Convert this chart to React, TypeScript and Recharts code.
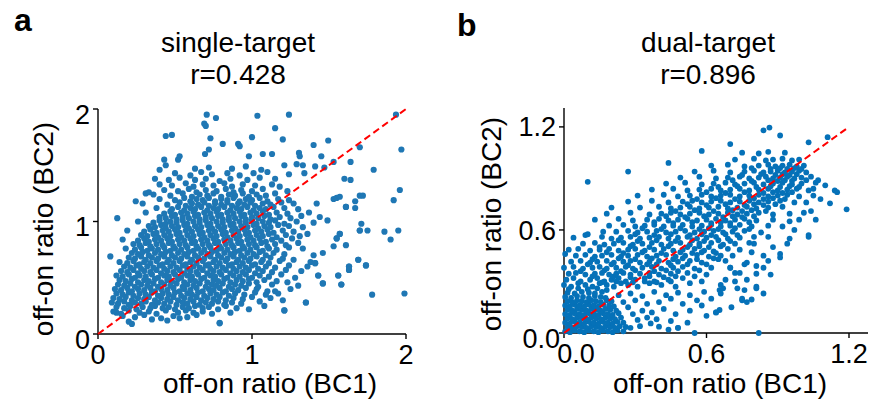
import React from 'react';
import { ScatterChart, Scatter, XAxis, YAxis } from 'recharts';

// ---------- data ----------
const singleTicks = [0, 1, 2];
const dualTicks = [0, 0.6, 1.2];
const singleDomain = [0, 2];
const dualXDomain = [0, 1.28];
const dualYDomain = [0, 1.31];
const singleDiagonal = [0, 2];
const dualDiagonal = [0, 1.2];
const singleTitle = ['single-target', 'r=0.428'];
const dualTitle = ['dual-target', 'r=0.896'];
const xTitle = 'off-on ratio (BC1)';
const yTitle = 'off-on ratio (BC2)';

// single-target: [BC1 off-on ratio, BC2 off-on ratio]
const singleTarget: [number, number][] = [
[.20,.11],[.22,.09],[.45,.12],[.79,.10],[.35,.13],[.53,.14],
[.16,.16],[.24,.15],[.30,.17],[.41,.14],[.49,.16],[.58,.15],[.64,.17],[.12,.19],
[.10,.20],[.15,.18],[.20,.21],[.27,.19],[.33,.20],[.38,.18],[.44,.21],[.52,.19],[.57,.21],[.62,.19],[.68,.20],[.74,.18],[.86,.19],[1.21,.21],[.98,.22],
[.12,.24],[.17,.23],[.21,.25],[.25,.22],[.29,.24],[.34,.23],[.37,.25],[.42,.23],[.46,.24],[.50,.22],[.55,.24],[.59,.23],[.63,.25],[.68,.23],[.72,.24],[.78,.22],[.83,.25],[.90,.23],
[.09,.28],[.13,.27],[.17,.29],[.20,.26],[.24,.28],[.28,.27],[.31,.29],[.35,.26],[.39,.28],[.43,.27],[.47,.29],[.51,.26],[.55,.28],[.58,.27],[.62,.29],[.66,.26],[.70,.28],[.74,.27],[.78,.29],[.82,.26],[.87,.28],[.93,.27],[1.35,.28],[1.05,.29],
[.10,.32],[.14,.31],[.18,.33],[.22,.30],[.26,.32],[.30,.31],[.33,.33],[.37,.30],[.41,.32],[.45,.31],[.49,.33],[.52,.30],[.56,.32],[.60,.31],[.64,.33],[.67,.30],[.71,.32],[.75,.31],[.79,.33],[.83,.30],[.88,.32],[.94,.31],[1.00,.33],[1.12,.32],[1.20,.30],
[.12,.36],[.16,.35],[.20,.37],[.23,.34],[.27,.36],[.31,.35],[.35,.37],[.39,.34],[.42,.36],[.46,.35],[.50,.37],[.54,.34],[.58,.36],[.61,.35],[.65,.37],[.69,.34],[.73,.36],[.77,.35],[.81,.37],[.85,.34],[.89,.36],[.95,.35],[1.02,.37],[1.09,.35],[1.17,.36],[1.99,.36],[1.78,.35],
[.11,.40],[.15,.39],[.19,.41],[.22,.38],[.26,.40],[.30,.39],[.34,.41],[.37,.38],[.41,.40],[.45,.39],[.49,.41],[.53,.38],[.56,.40],[.60,.39],[.64,.41],[.68,.38],[.72,.40],[.75,.39],[.79,.41],[.83,.38],[.87,.40],[.91,.39],[.96,.41],[1.03,.40],[1.10,.38],[1.25,.40],
[.13,.44],[.17,.43],[.21,.45],[.24,.42],[.28,.44],[.32,.43],[.36,.45],[.39,.42],[.43,.44],[.47,.43],[.51,.45],[.55,.42],[.58,.44],[.62,.43],[.66,.45],[.70,.42],[.74,.44],[.77,.43],[.81,.45],[.85,.42],[.89,.44],[.93,.43],[.98,.45],[1.04,.42],[1.13,.44],[1.30,.43],[1.46,.45],[1.58,.44],
[.14,.48],[.18,.47],[.22,.49],[.26,.46],[.30,.48],[.33,.47],[.37,.49],[.41,.46],[.45,.48],[.48,.47],[.52,.49],[.56,.46],[.60,.48],[.63,.47],[.67,.49],[.71,.46],[.75,.48],[.78,.47],[.82,.49],[.86,.46],[.90,.48],[.94,.47],[.98,.49],[1.03,.46],[1.08,.48],[1.16,.47],[1.23,.46],
[.12,.52],[.16,.51],[.20,.53],[.24,.50],[.27,.52],[.31,.51],[.35,.53],[.39,.50],[.43,.52],[.46,.51],[.50,.53],[.54,.50],[.58,.52],[.61,.51],[.65,.53],[.69,.50],[.73,.52],[.76,.51],[.80,.53],[.84,.50],[.88,.52],[.92,.51],[.96,.53],[1.00,.50],[1.05,.52],[1.11,.51],[1.19,.53],[1.43,.52],[1.56,.52],
[.15,.56],[.19,.55],[.23,.57],[.26,.54],[.30,.56],[.34,.55],[.38,.57],[.41,.54],[.45,.56],[.49,.55],[.53,.57],[.56,.54],[.60,.56],[.64,.55],[.68,.57],[.71,.54],[.75,.56],[.79,.55],[.83,.57],[.86,.54],[.90,.56],[.94,.55],[.98,.57],[1.02,.54],[1.07,.56],[1.13,.55],[1.22,.57],[1.32,.56],[1.63,.57],
[.17,.60],[.21,.59],[.25,.61],[.28,.58],[.32,.60],[.36,.59],[.40,.61],[.43,.58],[.47,.60],[.51,.59],[.55,.61],[.58,.58],[.62,.60],[.66,.59],[.70,.61],[.73,.58],[.77,.60],[.81,.59],[.85,.61],[.88,.58],[.92,.60],[.96,.59],[1.00,.61],[1.04,.58],[1.09,.60],[1.15,.59],[1.24,.61],[1.63,.60],[1.74,.61],
[.14,.64],[.19,.63],[.23,.65],[.27,.62],[.30,.64],[.34,.63],[.38,.65],[.42,.62],[.45,.64],[.49,.63],[.53,.65],[.57,.62],[.60,.64],[.64,.63],[.68,.65],[.72,.62],[.75,.64],[.79,.63],[.83,.65],[.87,.62],[.90,.64],[.94,.63],[.98,.65],[1.02,.62],[1.06,.64],[1.11,.63],[1.18,.65],[1.38,.64],[1.41,.63],
[.20,.68],[.24,.67],[.28,.69],[.31,.66],[.35,.68],[.39,.67],[.43,.69],[.46,.66],[.50,.68],[.54,.67],[.58,.69],[.61,.66],[.65,.68],[.69,.67],[.73,.69],[.76,.66],[.80,.68],[.84,.67],[.88,.69],[.91,.66],[.95,.68],[.99,.67],[1.03,.69],[1.07,.66],[1.12,.68],[1.20,.67],[1.27,.66],[1.69,.66],
[.08,.69],[.22,.72],[.26,.71],[.29,.73],[.33,.70],[.37,.72],[.41,.71],[.44,.73],[.48,.70],[.52,.72],[.56,.71],[.59,.73],[.63,.70],[.67,.72],[.71,.71],[.74,.73],[.78,.70],[.82,.72],[.86,.71],[.89,.73],[.93,.70],[.97,.72],[1.01,.71],[1.05,.73],[1.09,.70],[1.14,.72],[1.21,.71],[1.40,.70],[1.46,.72],
[.18,.76],[.24,.75],[.28,.77],[.32,.74],[.35,.76],[.39,.75],[.43,.77],[.47,.74],[.50,.76],[.54,.75],[.58,.77],[.62,.74],[.65,.76],[.69,.75],[.73,.77],[.77,.74],[.80,.76],[.84,.75],[.88,.77],[.92,.74],[.95,.76],[.99,.75],[1.03,.77],[1.07,.74],[1.11,.76],[1.16,.75],[1.24,.77],[1.53,.78],[1.61,.79],[1.33,.76],
[.23,.80],[.27,.79],[.31,.81],[.34,.78],[.38,.80],[.42,.79],[.46,.81],[.49,.78],[.53,.80],[.57,.79],[.61,.81],[.64,.78],[.68,.80],[.72,.79],[.76,.81],[.79,.78],[.83,.80],[.87,.79],[.91,.81],[.94,.78],[.98,.80],[1.02,.79],[1.06,.81],[1.10,.78],[1.15,.80],[1.22,.79],[1.30,.81],
[.16,.84],[.26,.83],[.30,.85],[.33,.82],[.37,.84],[.41,.83],[.45,.85],[.48,.82],[.52,.84],[.56,.83],[.60,.85],[.63,.82],[.67,.84],[.71,.83],[.75,.85],[.78,.82],[.82,.84],[.86,.83],[.90,.85],[.93,.82],[.97,.84],[1.01,.83],[1.05,.85],[1.09,.82],[1.13,.84],[1.19,.83],[1.26,.85],[1.55,.85],[1.90,.84],[1.57,.89],
[.28,.88],[.32,.87],[.36,.89],[.39,.86],[.43,.88],[.47,.87],[.51,.89],[.54,.86],[.58,.88],[.62,.87],[.66,.89],[.69,.86],[.73,.88],[.77,.87],[.81,.89],[.84,.86],[.88,.88],[.92,.87],[.96,.89],[.99,.86],[1.03,.88],[1.07,.87],[1.11,.89],[1.16,.86],[1.22,.88],[1.31,.87],[1.36,.89],
[.19,.92],[.30,.91],[.34,.93],[.38,.90],[.42,.92],[.46,.91],[.50,.93],[.53,.90],[.57,.92],[.61,.91],[.65,.93],[.68,.90],[.72,.92],[.76,.91],[.80,.93],[.83,.90],[.87,.92],[.91,.91],[.95,.93],[.98,.90],[1.02,.92],[1.06,.91],[1.10,.93],[1.14,.90],[1.20,.92],[1.27,.91],[1.70,.92],[1.75,.92],[1.86,.91],[1.95,.92],
[.33,.96],[.37,.95],[.41,.97],[.44,.94],[.48,.96],[.52,.95],[.56,.97],[.59,.94],[.63,.96],[.67,.95],[.71,.97],[.74,.94],[.78,.96],[.82,.95],[.86,.97],[.89,.94],[.93,.96],[.97,.95],[1.01,.97],[1.04,.94],[1.08,.96],[1.12,.95],[1.17,.97],[1.24,.96],[1.33,.95],[1.71,.98],
[.26,1.00],[.36,.99],[.40,1.01],[.44,.98],[.47,1.00],[.51,.99],[.55,1.01],[.58,.98],[.62,1.00],[.66,.99],[.70,1.01],[.73,.98],[.77,1.00],[.81,.99],[.85,1.01],[.88,.98],[.92,1.00],[.96,.99],[1.00,1.01],[1.03,.98],[1.07,1.00],[1.11,.99],[1.15,1.01],[1.21,.98],[1.29,1.00],[1.40,.99],[1.49,1.01],
[.125,1.03],[.40,1.04],[.44,1.03],[.48,1.05],[.51,1.02],[.55,1.04],[.59,1.03],[.63,1.05],[.66,1.02],[.70,1.04],[.74,1.03],[.78,1.05],[.81,1.02],[.85,1.04],[.89,1.03],[.93,1.05],[.96,1.02],[1.00,1.04],[1.04,1.03],[1.08,1.05],[1.12,1.02],[1.18,1.04],[1.25,1.03],[1.32,1.05],[1.44,1.04],
[.31,1.08],[.43,1.07],[.47,1.09],[.50,1.06],[.54,1.08],[.58,1.07],[.62,1.09],[.65,1.06],[.69,1.08],[.73,1.07],[.77,1.09],[.80,1.06],[.84,1.08],[.88,1.07],[.92,1.09],[.95,1.06],[.99,1.08],[1.03,1.07],[1.07,1.09],[1.11,1.06],[1.16,1.08],[1.23,1.07],[1.37,1.08],
[.38,1.12],[.48,1.11],[.52,1.13],[.56,1.10],[.60,1.12],[.63,1.11],[.67,1.13],[.71,1.10],[.75,1.12],[.78,1.11],[.82,1.13],[.86,1.10],[.90,1.12],[.93,1.11],[.97,1.13],[1.01,1.10],[1.05,1.12],[1.09,1.11],[1.14,1.13],[1.21,1.12],[1.30,1.11],[1.61,1.13],[1.67,1.12],
[.29,1.16],[.45,1.15],[.53,1.17],[.57,1.14],[.61,1.16],[.65,1.15],[.69,1.17],[.72,1.14],[.76,1.16],[.80,1.15],[.84,1.17],[.87,1.14],[.91,1.16],[.95,1.15],[.99,1.17],[1.02,1.14],[1.07,1.16],[1.12,1.15],[1.19,1.17],[1.27,1.16],[1.42,1.16],[1.67,1.18],
[.245,1.18],[.40,1.20],[.50,1.19],[.56,1.21],[.60,1.18],[.64,1.20],[.68,1.19],[.72,1.21],[.76,1.18],[.80,1.20],[.84,1.19],[.88,1.21],[.92,1.18],[.96,1.20],[1.00,1.19],[1.05,1.21],[1.10,1.18],[1.17,1.20],[1.24,1.19],[1.53,1.20],[1.55,1.21],[1.57,1.22],[1.92,1.19],
[.36,1.24],[.47,1.23],[.55,1.25],[.61,1.22],[.66,1.24],[.71,1.23],[.75,1.25],[.80,1.22],[.85,1.24],[.89,1.23],[.94,1.25],[.98,1.22],[1.03,1.24],[1.09,1.23],[1.15,1.25],[1.70,1.23],[1.72,1.23],
[.31,1.25],[.33,1.26],[.43,1.28],[.52,1.27],[.59,1.29],[.64,1.26],[.70,1.28],[.77,1.27],[.83,1.29],[.88,1.26],[.93,1.28],[1.00,1.27],[1.07,1.29],[1.23,1.27],[1.96,1.28],
[.40,1.33],[.48,1.32],[.57,1.34],[.62,1.31],[.68,1.33],[.75,1.32],[.82,1.34],[.87,1.31],[.94,1.33],[1.02,1.32],[1.13,1.33],[1.18,1.31],
[.37,1.38],[.46,1.37],[.53,1.39],[.63,1.37],[.70,1.38],[.79,1.36],[.86,1.38],[.97,1.37],[1.05,1.39],[1.15,1.38],[1.64,1.37],[1.60,1.38],
[.50,1.43],[.60,1.41],[.67,1.44],[.74,1.42],[.84,1.43],[.92,1.41],[1.01,1.43],[1.10,1.44],[1.24,1.42],[1.34,1.43],
[.44,1.50],[.40,1.46],[.63,1.47],[.72,1.48],[.87,1.47],[.96,1.49],[1.06,1.46],[1.21,1.50],[1.29,1.51],[1.33,1.50],[1.41,1.49],[1.47,1.48],[1.79,1.46],
[.43,1.55],[.52,1.55],[.53,1.58],[.695,1.60],[.72,1.64],[.98,1.58],[1.07,1.60],[1.13,1.60],[1.305,1.61],[1.31,1.58],[1.45,1.58],[1.53,1.53],[1.64,1.53],[1.70,1.66],[1.97,1.64],
[.81,1.69],[.91,1.69],[.92,1.67],[1.40,1.68],[1.495,1.72],[.73,1.74],[1.00,1.75],[1.20,1.73],[.44,1.76],[.48,1.77],[1.15,1.83],[.69,1.87],[.70,1.85],[.766,1.92],[.706,1.95],[1.035,1.94],[1.24,1.95],[1.935,1.95],
[1.61,1.13],[1.70,.92],[1.74,.61],[1.69,.66],[1.63,.60],[1.63,.57],[1.56,.52],[1.58,.44],[1.46,.45],[1.35,.28],[1.43,.52],[1.41,.63],[1.55,.85],[1.57,.89],[1.21,.21],[.79,.095],[1.08,.25],[1.15,.38],[1.28,.50],[1.36,.60]
];

// dual-target: [BC1 off-on ratio, BC2 off-on ratio]
const dualTarget: [number, number][] = [
[.005,.01],[.025,.005],[.045,.015],[.065,.01],[.085,.005],[.105,.015],[.125,.01],[.145,.005],[.165,.015],[.185,.01],[.205,.005],[.225,.015],[.25,.01],
[.015,.035],[.035,.03],[.055,.04],[.075,.035],[.095,.03],[.115,.04],[.135,.035],[.155,.03],[.175,.04],[.195,.035],[.215,.03],[.235,.04],[.26,.035],
[.005,.06],[.025,.055],[.045,.065],[.065,.06],[.085,.055],[.105,.065],[.125,.06],[.145,.055],[.165,.065],[.185,.06],[.205,.055],[.225,.065],[.25,.06],
[.015,.085],[.035,.08],[.055,.09],[.075,.085],[.095,.08],[.115,.09],[.135,.085],[.155,.08],[.175,.09],[.195,.085],[.215,.08],[.24,.09],
[.005,.11],[.025,.105],[.045,.115],[.065,.11],[.085,.105],[.105,.115],[.125,.11],[.145,.105],[.165,.115],[.185,.11],[.205,.105],[.23,.115],
[.015,.135],[.035,.13],[.055,.14],[.075,.135],[.095,.13],[.115,.14],[.135,.135],[.155,.13],[.175,.14],[.195,.135],[.22,.13],
[.005,.16],[.025,.155],[.045,.165],[.065,.16],[.085,.155],[.105,.165],[.125,.16],[.145,.155],[.165,.165],[.19,.16],[.21,.155],
[.015,.185],[.035,.18],[.055,.19],[.075,.185],[.095,.18],[.115,.19],[.135,.185],[.155,.18],[.18,.19],[.20,.185],
[.005,.21],[.03,.205],[.055,.215],[.08,.21],[.105,.205],[.13,.215],[.155,.21],[.175,.205],
[.015,.235],[.045,.23],[.075,.24],[.105,.235],[.13,.23],[.16,.24],
[.02,.255],[.06,.26],[.10,.255],[.14,.26],[.18,.25],
[.28,.03],[.32,.04],[.365,.056],[.40,.037],[.44,.02],[.48,.03],[.55,0],[.82,0],[.31,.076],[.35,.09],[.29,.11],[.39,.08],[.45,.07],[.52,.06],
[.27,.15],[.33,.13],[.37,.12],[.42,.14],[.47,.11],[.53,.13],[.60,.10],[.64,.12],[.655,.134],[.705,.15],[.58,.16],
[.25,.18],[.30,.19],[.35,.17],[.40,.18],[.45,.20],[.50,.17],[.56,.19],[.62,.20],[.77,.18],[.79,.195],[.75,.19],
[.23,.22],[.28,.23],[.33,.215],[.38,.24],[.43,.22],[.48,.235],[.53,.22],[.59,.24],[.66,.23],[.73,.26],[.76,.25],[.81,.27],[.84,.23],[.655,.25],[.67,.26],
[0,.28],[.03,.27],[.06,.29],[.09,.28],[.12,.27],[.15,.29],[.18,.28],[.21,.27],[.24,.29],[.27,.28],[.31,.27],[.36,.29],[.41,.28],[.47,.27],[.53,.29],[.66,.28],[.72,.30],
[.16,.295],[.22,.30],[.29,.295],[.34,.30],[.39,.295],[.45,.30],
[.01,.31],[.04,.32],[.07,.30],[.11,.31],[.14,.32],[.17,.30],[.20,.31],[.23,.32],[.26,.30],[.30,.31],[.34,.32],[.38,.30],[.44,.31],[.50,.32],[.58,.30],[.68,.31],[.77,.31],
[.12,.33],[.21,.33],[.28,.325],[.36,.33],[.42,.325],[.47,.33],[.55,.33],
[.02,.345],[.05,.35],[.09,.34],[.13,.345],[.16,.35],[.19,.34],[.22,.345],[.25,.35],[.28,.34],[.32,.345],[.36,.35],[.40,.34],[.45,.345],[.52,.35],[.60,.34],[.74,.35],[.81,.345],
[.07,.36],[.17,.365],[.24,.36],[.30,.365],[.38,.36],[.43,.365],[.48,.36],[.57,.365],
[0,.38],[.04,.385],[.08,.375],[.12,.38],[.15,.385],[.18,.375],[.22,.38],[.26,.385],[.29,.375],[.33,.38],[.37,.385],[.41,.375],[.46,.38],[.50,.385],[.55,.375],[.62,.38],[.70,.38],[.81,.39],[.84,.38],
[.10,.40],[.20,.40],[.27,.395],[.35,.40],[.39,.40],[.45,.395],[.52,.40],[.60,.40],
[.03,.415],[.07,.42],[.11,.41],[.14,.415],[.18,.42],[.21,.41],[.25,.415],[.28,.42],[.32,.41],[.36,.415],[.40,.42],[.44,.41],[.48,.415],[.53,.42],[.58,.41],[.65,.43],[.68,.42],[.77,.41],
[.12,.43],[.23,.435],[.30,.43],[.37,.435],[.46,.43],[.50,.435],[.56,.43],[.63,.435],
[.05,.45],[.09,.455],[.13,.445],[.16,.45],[.20,.455],[.24,.445],[.27,.45],[.31,.455],[.35,.445],[.39,.45],[.43,.455],[.47,.445],[.51,.45],[.56,.455],[.61,.445],[.66,.45],[.71,.45],
[.18,.47],[.25,.465],[.33,.47],[.41,.465],[.49,.47],[.54,.465],[.58,.47],[.64,.465],
[.02,.485],[.06,.49],[.11,.48],[.15,.485],[.19,.49],[.23,.48],[.27,.485],[.30,.49],[.34,.48],[.38,.485],[.42,.49],[.46,.48],[.50,.485],[.55,.49],[.59,.48],[.63,.475],[.69,.49],[.74,.485],
[.15,.50],[.28,.505],[.36,.50],[.44,.505],[.52,.50],[.57,.505],[.61,.50],[.66,.505],
[.08,.52],[.13,.525],[.17,.515],[.21,.52],[.25,.525],[.29,.515],[.33,.52],[.37,.525],[.41,.515],[.45,.52],[.49,.525],[.53,.515],[.57,.52],[.62,.525],[.67,.515],[.72,.52],[.78,.525],[.94,.52],
[.23,.54],[.31,.535],[.39,.54],[.47,.535],[.54,.54],[.59,.535],[.65,.54],[.70,.535],
[.04,.555],[.16,.56],[.20,.55],[.24,.555],[.28,.56],[.32,.55],[.36,.555],[.40,.56],[.44,.55],[.48,.555],[.52,.56],[.56,.55],[.60,.555],[.64,.56],[.69,.55],[.74,.555],[.80,.56],
[.30,.575],[.38,.57],[.45,.575],[.53,.57],[.58,.575],[.62,.57],[.68,.575],[.73,.57],
[.22,.59],[.27,.595],[.31,.585],[.35,.59],[.39,.595],[.43,.585],[.47,.59],[.51,.595],[.55,.585],[.59,.59],[.63,.595],[.67,.585],[.71,.59],[.76,.595],[.83,.585],
[.33,.61],[.41,.605],[.49,.61],[.57,.605],[.61,.61],[.65,.605],[.72,.61],[.78,.605],
[.19,.625],[.25,.63],[.30,.62],[.34,.625],[.38,.63],[.42,.62],[.46,.625],[.50,.63],[.54,.62],[.58,.625],[.62,.63],[.66,.62],[.70,.625],[.74,.63],[.79,.62],[.86,.625],
[.38,.645],[.46,.64],[.54,.645],[.62,.64],[.66,.645],[.70,.64],[.78,.645],
[.13,.66],[.23,.665],[.29,.655],[.35,.66],[.40,.665],[.44,.655],[.48,.66],[.52,.665],[.56,.655],[.60,.66],[.64,.665],[.68,.655],[.72,.66],[.76,.665],[.81,.655],[.88,.66],
[.43,.68],[.51,.675],[.59,.68],[.67,.675],[.71,.68],[.75,.675],[.80,.68],
[.18,.695],[.28,.70],[.36,.69],[.41,.695],[.45,.70],[.49,.69],[.53,.695],[.57,.70],[.61,.69],[.65,.695],[.69,.70],[.73,.69],[.77,.695],[.82,.70],[.88,.69],[.95,.695],
[.47,.71],[.55,.715],[.63,.71],[.71,.715],[.75,.71],[.79,.715],[.85,.71],
[.32,.73],[.40,.735],[.45,.725],[.49,.73],[.53,.735],[.57,.725],[.61,.73],[.65,.735],[.69,.725],[.73,.73],[.77,.735],[.81,.725],[.86,.73],[.92,.735],
[.52,.75],[.60,.745],[.68,.75],[.76,.745],[.80,.75],[.84,.745],[.89,.75],
[.27,.765],[.37,.77],[.44,.76],[.50,.765],[.54,.77],[.58,.76],[.62,.765],[.66,.77],[.70,.76],[.74,.765],[.78,.77],[.82,.76],[.86,.765],[.91,.77],[.97,.76],
[.56,.78],[.64,.785],[.72,.78],[.80,.785],[.84,.78],[.88,.785],[.93,.78],
[.31,.80],[.42,.805],[.48,.795],[.53,.80],[.58,.805],[.62,.795],[.66,.80],[.70,.805],[.74,.795],[.78,.80],[.82,.805],[.86,.795],[.90,.80],[.94,.805],[.99,.795],[1.05,.80],
[.60,.82],[.68,.815],[.76,.82],[.84,.815],[.88,.82],[.92,.815],[.96,.82],
[.37,.835],[.46,.84],[.52,.83],[.57,.835],[.62,.84],[.66,.83],[.70,.835],[.74,.84],[.78,.83],[.82,.835],[.86,.84],[.90,.83],[.94,.835],[.98,.84],[1.03,.83],
[.65,.85],[.73,.855],[.81,.85],[.87,.855],[.91,.85],[.95,.855],[.99,.85],
[.43,.87],[.51,.875],[.58,.865],[.63,.87],[.68,.875],[.72,.865],[.76,.87],[.80,.875],[.84,.865],[.88,.87],[.92,.875],[.96,.865],[1.00,.87],[1.06,.875],
[.71,.89],[.79,.885],[.86,.89],[.90,.885],[.93,.89],[.96,.885],[1.02,.89],
[.49,.905],[.57,.91],[.64,.90],[.69,.905],[.74,.91],[.78,.90],[.82,.905],[.85,.91],[.88,.90],[.91,.905],[.94,.91],[.97,.90],[1.00,.905],[1.04,.91],
[.75,.92],[.83,.925],[.89,.92],[.92,.925],[.95,.92],[.98,.925],
[.55,.94],[.63,.945],[.70,.935],[.76,.94],[.80,.945],[.84,.935],[.87,.94],[.90,.945],[.93,.935],[.96,.94],[.99,.945],[1.02,.935],
[.79,.96],[.87,.955],[.91,.96],[.94,.955],[.97,.96],[1.00,.955],
[.62,.975],[.69,.98],[.76,.97],[.82,.975],[.86,.98],[.89,.97],[.92,.975],[.95,.98],[.98,.97],[1.01,.975],
[.72,1.01],[.80,1.015],[.85,1.005],[.88,1.01],[.92,1.015],[.96,1.005],[.99,1.01],
[.75,1.05],[.82,1.045],[.86,1.055],[.93,1.05],
[1.02,.76],[1.05,.84],[1.08,.78],[1.10,.86],[1.01,.70],[.99,.66],[1.04,.71],[.95,.55],[.92,.62],[.88,.50],[.86,.56],[.84,.45],[.80,.52],[.79,.47],[.76,.40],[.72,.35],[.70,.38],[.86,.42],[.95,.65],
[.865,1.196],[.84,1.18],[.91,1.15],[1.11,1.14],[1.03,1.11],[.70,1.10],[.58,1.06],[.44,.99],[.27,.94],[.10,.88],[1.07,.89],[1.14,.83],[1.15,.82],[1.12,.755],[1.19,.72],[1.06,.66],[1.03,.57],[1.03,.56],[.97,.60],[.91,.46],[.91,.44],[.87,.34],[.81,.26],[.75,.20],[.64,.12],[.48,.03],[.20,.73],[.09,.57],[.10,.575],[.005,.46],[.165,.59]
];

// ---------- rendering ----------
const FONT = '"Liberation Sans", Arial, Helvetica, sans-serif';
const FS = 28;
const TICK_FS = 27;

const toPoints = (arr: [number, number][]) => arr.map(([x, y]) => ({ x, y }));
const diagPoints = (d: number[]) => d.map((v) => ({ x: v, y: v }));

const dotShape = (color: string, r: number) => (p: any) =>
  <circle cx={p.cx} cy={p.cy} r={r} fill={color} />;
const noShape = () => <g />;

const makeXTick = (fmt: (v: number) => string, firstShift: number) => (p: any) => (
  <text x={p.x + (p.index === 0 ? firstShift : 0)} y={p.y} dy="0.71em" textAnchor="middle"
    fontFamily={FONT} fontSize={TICK_FS} fill="#000">{fmt(p.payload.value)}</text>
);
const makeYTick = (fmt: (v: number) => string, down: number, firstShift: number, firstDown: number) => (p: any) => (
  <text x={p.x + (p.index === 0 ? firstShift : 0)} y={p.y + (p.index === 0 ? firstDown : down)} dy="0.355em" textAnchor="end"
    fontFamily={FONT} fontSize={TICK_FS} fill="#000">{fmt(p.payload.value)}</text>
);

const axisStroke = { stroke: '#000', strokeWidth: 1.4 };
const diagLine = { stroke: '#ff0000', strokeWidth: 2, strokeDasharray: '7 4' };

export default function App() {
  const fmtInt = (v: number) => String(v);
  const fmt1 = (v: number) => v.toFixed(1);
  return (
    <div style={{ position: 'absolute', left: 0, top: 0, width: 871, height: 406, background: '#fff' }}>
      <div style={{ position: 'absolute', left: 0, top: 0 }}>
        <ScatterChart width={440} height={406} margin={{ top: 109, right: 34, bottom: 32, left: 58 }}>
          <XAxis type="number" dataKey="x" domain={singleDomain} ticks={singleTicks} tickSize={5} tickMargin={6}
            height={40} axisLine={axisStroke} tickLine={axisStroke} tick={makeXTick(fmtInt, 0)} />
          <YAxis type="number" dataKey="y" domain={singleDomain} ticks={singleTicks} tickSize={5} tickMargin={3}
            width={40} axisLine={axisStroke} tickLine={axisStroke} tick={makeYTick(fmtInt, 5, 0, 5)} />
          <Scatter data={toPoints(singleTarget)} fill="#1f77b4" shape={dotShape('#1f77b4', 3.1)} isAnimationActive={false} />
          <Scatter data={diagPoints(singleDiagonal)} fill="#ff0000" line={diagLine} shape={noShape} isAnimationActive={false} />
        </ScatterChart>
      </div>
      <div style={{ position: 'absolute', left: 440, top: 0 }}>
        <ScatterChart width={431} height={406} margin={{ top: 108, right: 3, bottom: 33, left: 84 }}>
          <XAxis type="number" dataKey="x" domain={dualXDomain} ticks={dualTicks} tickSize={5} tickMargin={6}
            height={40} axisLine={axisStroke} tickLine={axisStroke} tick={makeXTick(fmt1, 12)} />
          <YAxis type="number" dataKey="y" domain={dualYDomain} ticks={dualTicks} tickSize={5} tickMargin={3}
            width={40} axisLine={axisStroke} tickLine={axisStroke} tick={makeYTick(fmt1, 0, 4, 5)} />
          <Scatter data={toPoints(dualTarget)} fill="#0571b8" shape={dotShape('#0571b8', 2.9)} isAnimationActive={false} />
          <Scatter data={diagPoints(dualDiagonal)} fill="#ff0000" line={diagLine} shape={noShape} isAnimationActive={false} />
        </ScatterChart>
      </div>
      <svg width={871} height={406} style={{ position: 'absolute', left: 0, top: 0, pointerEvents: 'none' }}
        fontFamily={FONT} fill="#000">
        <text x={14} y={31} fontSize={32} fontWeight="bold">a</text>
        <text x={457} y={36} fontSize={32} fontWeight="bold">b</text>
        <text x={238} y={52} fontSize={FS} textAnchor="middle">{singleTitle[0]}</text>
        <text x={238} y={84} fontSize={FS} textAnchor="middle">{singleTitle[1]}</text>
        <text x={708} y={52} fontSize={FS} textAnchor="middle">{dualTitle[0]}</text>
        <text x={708} y={84} fontSize={FS} textAnchor="middle">{dualTitle[1]}</text>
        <text x={270} y={393} fontSize={FS} textAnchor="middle">{xTitle}</text>
        <text x={720} y={393} fontSize={FS} textAnchor="middle">{xTitle}</text>
        <text transform="translate(53,229) rotate(-90)" fontSize={FS} textAnchor="middle">{yTitle}</text>
        <text transform="translate(501,224) rotate(-90)" fontSize={FS} textAnchor="middle">{yTitle}</text>
      </svg>
    </div>
  );
}
